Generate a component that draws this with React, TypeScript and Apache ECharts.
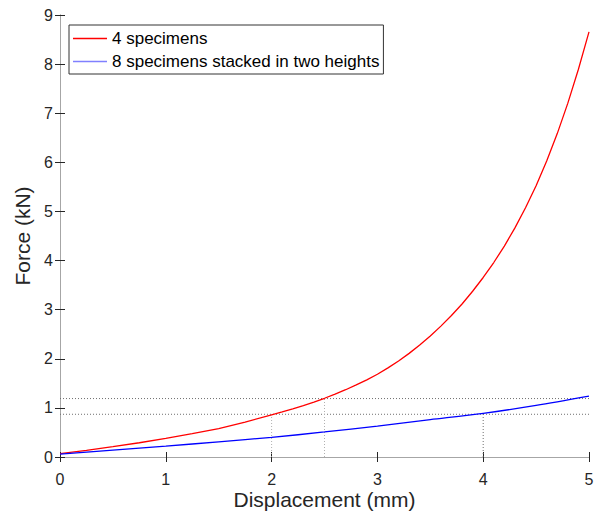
import React, { useEffect, useRef } from "react";
import * as echarts from "echarts";

const redX = [0, 0.25, 0.5, 0.75, 1, 1.25, 1.5, 1.75, 2, 2.1, 2.2, 2.3, 2.4, 2.5, 2.6, 2.7, 2.8, 2.9, 3, 3.1, 3.2, 3.3, 3.4, 3.5, 3.6, 3.7, 3.8, 3.9, 4, 4.1, 4.2, 4.3, 4.4, 4.5, 4.6, 4.7, 4.8, 4.9, 5];
const redY = [0.07, 0.135, 0.21, 0.29, 0.38, 0.475, 0.58, 0.71, 0.86, 0.918, 0.98, 1.047, 1.119, 1.196, 1.28, 1.37, 1.467, 1.571, 1.685, 1.815, 1.955, 2.11, 2.28, 2.465, 2.665, 2.88, 3.115, 3.375, 3.655, 3.96, 4.295, 4.665, 5.075, 5.525, 6.025, 6.585, 7.205, 7.895, 8.655];
const blueX = [0, 0.5, 1, 1.5, 2, 2.5, 3, 3.5, 4, 4.5, 5];
const blueY = [0.06, 0.14, 0.22, 0.31, 0.4, 0.51, 0.63, 0.76, 0.89, 1.05, 1.24];

const refH = [1.19, 0.87];
const refV = [[2, 0.86], [2.5, 1.2], [4, 0.89]];

const seriesNames = ["4 specimens", "8 specimens stacked in two heights"];
const FONT = "'Liberation Sans', Arial, Helvetica, sans-serif";

export default function App() {
  const ref = useRef<HTMLDivElement>(null);
  useEffect(() => {
    const chart = echarts.init(ref.current!, null, { renderer: "svg" });
    const dotted = { color: "#6f6f6f", width: 1, type: [1, 2] as any };
    const refSeries: any[] = [];
    refH.forEach((v) =>
      refSeries.push({
        type: "line",
        data: [[0, v], [5, v]],
        symbol: "none",
        lineStyle: dotted,
        silent: true,
        z: 1,
      })
    );
    refV.forEach(([x, y], i) =>
      refSeries.push({
        type: "line",
        data: [[x, 0], [x, y]],
        symbol: "none",
        lineStyle: { ...dotted, color: i < 2 ? "#b0b0b0" : "#6f6f6f" },
        silent: true,
        z: 1,
      })
    );
    const axisLine = { show: true, lineStyle: { color: "#a6a6a6", width: 1 } };
    const tick = { show: true, inside: true, length: 5, lineStyle: { color: "#262626" } };
    chart.setOption({
      animation: false,
      textStyle: { fontFamily: FONT },
      grid: { left: 60, right: 12, top: 15, bottom: 55, containLabel: false, outerBoundsMode: "none" },
      legend: {
        orient: "vertical",
        left: 69,
        top: 25,
        data: [
          { name: seriesNames[0], itemStyle: { color: "#ff0000" } },
          { name: seriesNames[1], itemStyle: { color: "#8080ff" } },
        ],
        icon: "rect",
        itemWidth: 34,
        itemHeight: 1.6,
        itemGap: 6,
        padding: [5, 4, 4, 4],
        borderColor: "#333",
        borderWidth: 1,
        borderRadius: 0,
        backgroundColor: "#fff",
        textStyle: { fontSize: 17, color: "#000", fontFamily: FONT },
      },
      xAxis: [
        {
          type: "value",
          min: 0,
          max: 5,
          interval: 1,
          position: "bottom",
          name: "Displacement (mm)",
          nameLocation: "middle",
          nameGap: 32,
          nameMoveOverlap: false,
          nameTextStyle: { fontSize: 21, color: "#262626" },
          axisLine,
          axisTick: tick,
          axisLabel: { fontSize: 16, color: "#262626", margin: 14 },
          splitLine: { show: false },
        },
        {
          type: "value",
          min: 0,
          max: 5,
          interval: 1,
          position: "top",
          axisLine,
          axisTick: tick,
          axisLabel: { show: false },
          splitLine: { show: false },
        },
      ],
      yAxis: [
        {
          type: "value",
          min: 0,
          max: 9,
          interval: 1,
          position: "left",
          name: "Force (kN)",
          nameLocation: "middle",
          nameGap: 24,
          nameTextStyle: { fontSize: 21, color: "#262626" },
          axisLine,
          axisTick: tick,
          axisLabel: { fontSize: 16, color: "#262626", margin: 7 },
          splitLine: { show: false },
        },
        {
          type: "value",
          min: 0,
          max: 9,
          interval: 1,
          position: "right",
          axisLine,
          axisTick: tick,
          axisLabel: { show: false },
          splitLine: { show: false },
        },
      ],
      series: [
        ...refSeries,
        {
          name: seriesNames[0],
          type: "line",
          data: redX.map((x, i) => [x, redY[i]]),
          symbol: "none",
          smooth: false,
          lineStyle: { color: "#ff0000", width: 1.3 },
          itemStyle: { color: "#ff0000" },
          z: 3,
        },
        {
          name: seriesNames[1],
          type: "line",
          data: blueX.map((x, i) => [x, blueY[i]]),
          symbol: "none",
          smooth: 0.3,
          lineStyle: { color: "#0000ff", width: 1.3 },
          itemStyle: { color: "#0000ff" },
          z: 3,
        },
      ],
    });
    return () => chart.dispose();
  }, []);
  return <div ref={ref} style={{ width: 601, height: 512, position: "absolute", left: 0, top: 0 }} />;
}
